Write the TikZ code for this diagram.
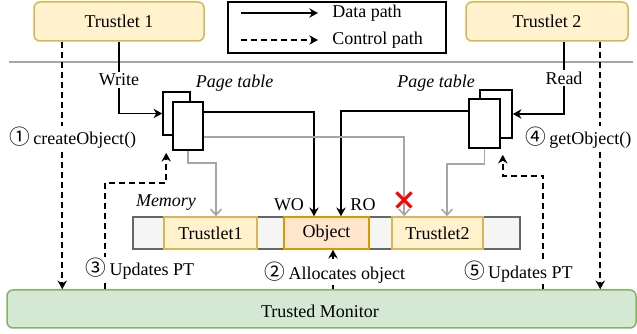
\documentclass[tikz,border=0pt]{standalone}
\usepackage{fontspec}
\setmainfont{Liberation Serif}
\newfontfamily\circfont{Noto Sans CJK SC}[Scale=1.15]
\usetikzlibrary{arrows.meta, calc, shapes.misc}
\newdimen\pxu
\pxu=0.75pt
\definecolor{tlfill}{HTML}{FFF2CC}
\definecolor{tlline}{HTML}{D6B656}
\definecolor{obfill}{HTML}{FFE6CC}
\definecolor{obline}{HTML}{D79B00}
\definecolor{tmfill}{HTML}{D5E8D4}
\definecolor{tmline}{HTML}{82B366}
\definecolor{memfill}{HTML}{F5F5F5}
\definecolor{memline}{HTML}{666666}
\definecolor{greyline}{HTML}{A6A6A6}
\tikzset{
	x=\pxu, y=-\pxu, % one unit is one pixel, y grows downwards
	font=\fontsize{13.5}{16}\selectfont, % same size for every text
	data/.style={line width=1.6\pxu, -{Stealth[length=6.5pt, width=7pt]}}, % data path
	ctrl/.style={data, dash pattern=on 4.5pt off 3pt}, % control path
	greypath/.style={line width=1.6\pxu, draw=greyline, -{Straight Barb[length=4.5pt, width=8pt]}},
	trustlet/.style={draw=tlline, fill=tlfill, line width=1.5\pxu, rounded corners=6\pxu, minimum height=39\pxu},
	cell/.style={draw=tlline, fill=tlfill, line width=1.5\pxu, minimum height=32\pxu},
	ptable/.style={draw, fill=white, line width=1.6\pxu},
	lbl/.style={fill=white, inner sep=1pt}, % labels that cut a line
}

\begin{document}
\begin{tikzpicture}
	\useasboundingbox (0,0) rectangle (637,334);
	% top row
	\node[trustlet, minimum width=170\pxu] (t1) at (119,21.5) {Trustlet 1};
	\node[trustlet, minimum width=162\pxu] (t2) at (547,21.5) {Trustlet 2};
	\node[draw, line width=1.6\pxu, minimum width=218\pxu, minimum height=51\pxu] (legend) at (337,27.5) {};
	\node[anchor=west, inner sep=0] (dtxt) at (332,13) {Data path};
	\node[anchor=west, inner sep=0] (ctxt) at (332,40) {Control path};
	\draw[data] ($(legend.west |- dtxt)+(14,0)$) -- ($(dtxt.west)+(-14,0)$);
	\draw[ctrl] ($(legend.west |- ctxt)+(14,0)$) -- ($(ctxt.west)+(-14,0)$);
	\draw[greyline, line width=1.5\pxu] (9,62) -- (633,62);

	% page tables and memory
	\node[ptable, minimum width=27\pxu, minimum height=43\pxu] (pt1b) at (176.5,113.5) {};
	\node[ptable, minimum width=30\pxu, minimum height=48\pxu] (pt1) at (188,126) {};
	\node[ptable, minimum width=32\pxu, minimum height=48\pxu] (pt2b) at (496,114) {};
	\node[ptable, minimum width=31\pxu, minimum height=49\pxu] (pt2) at (484.5,123.5) {};
	\node (pt1lbl) at (234.5,83) {\textit{Page table}};
	\node (pt2lbl) at (436,83) {\textit{Page table}};

	\node[draw=memline, fill=memfill, line width=1.5\pxu, minimum width=387\pxu, minimum height=32\pxu] (mem) at (326.5,233) {};
	\node[cell, minimum width=93\pxu] (m1) at (210.5,233) {Trustlet1};
	\node[cell, draw=obline, fill=obfill, minimum width=85\pxu] (obj) at (326.5,233) {Object};
	\node[cell, minimum width=91\pxu] (m2) at (437.5,233) {Trustlet2};
	\node (memlbl) at (166,203) {\textit{Memory}};
	\node (wo) at (289,205) {WO};
	\node (ro) at (363,205) {RO};

	\node[draw=tmline, fill=tmfill, line width=1.5\pxu, rounded corners=6\pxu, minimum width=629\pxu, minimum height=38\pxu] (tm) at (321.5,309) {};
	\node (tmtxt) at (320,311) {Trusted Monitor};

	% data paths
	\node[lbl] (wr) at (119,80) {Write};
	\node[lbl] (rd) at (564,78) {Read};
	\draw[data] (t1.south -| wr) -- (wr) |- (pt1b.west);
	\draw[data] (t2.south -| rd) -- (rd) |- (pt2b.east);
	\draw[data] ($(pt1.north east)+(0,11)$) -| ($(obj.north)+(-12.5,0)$);
	\draw[data] ($(pt2.north west)+(0,13)$) -| ($(obj.north)+(14.5,0)$);
	\draw[greypath] (pt1.south) -- ++(0,12) -| ($(m1.north)+(5.5,0)$);
	\draw[greypath] ($(pt1.north east)+(0,36)$) -| ($(m2.north west)+(13,0)$);
	\draw[greypath] (pt2.south) -- ++(0,15) -| ($(m2.north)+(9.5,0)$);
	\node[cross out, draw=red, line width=3\pxu, minimum size=9pt, inner sep=0] (deny) at (404,200) {};

	% control paths
	\draw[ctrl] ($(t1.south west)+(29,0)$) coordinate (c1) -- (c1 |- tm.north);
	\draw[ctrl] ($(t2.south west)+(135,0)$) coordinate (c2) -- (c2 |- tm.north);
	\draw[ctrl] ($(tm.north west)+(99,0)$) |- ($(pt1.south west)+(-6,32)$) -- ($(pt1.south west)+(-6,2)$);
	\coordinate (alloc) at ($(obj.south)+(6.5,0)$);
	\draw[ctrl] (alloc |- tm.north) -- (alloc);
	\draw[ctrl] ($(tm.north west)+(537,0)$) |- ($(pt2.south east)+(2,27)$) -- ($(pt2.south east)+(2,6)$);

	% step labels
	\node[lbl, anchor=west] (s1) at (8,138) {{\circfont ①}\,createObject()};
	\node[lbl] (s2) at (335,273) {{\circfont ②}\,Allocates object};
	\node[lbl] (s3) at (140,269) {{\circfont ③}\,Updates PT};
	\node[lbl, anchor=west] (s4) at (524,138) {{\circfont ④}\,getObject()};
	\node[lbl] (s5) at (518.5,272) {{\circfont ⑤}\,Updates PT};
\end{tikzpicture}
\end{document}
